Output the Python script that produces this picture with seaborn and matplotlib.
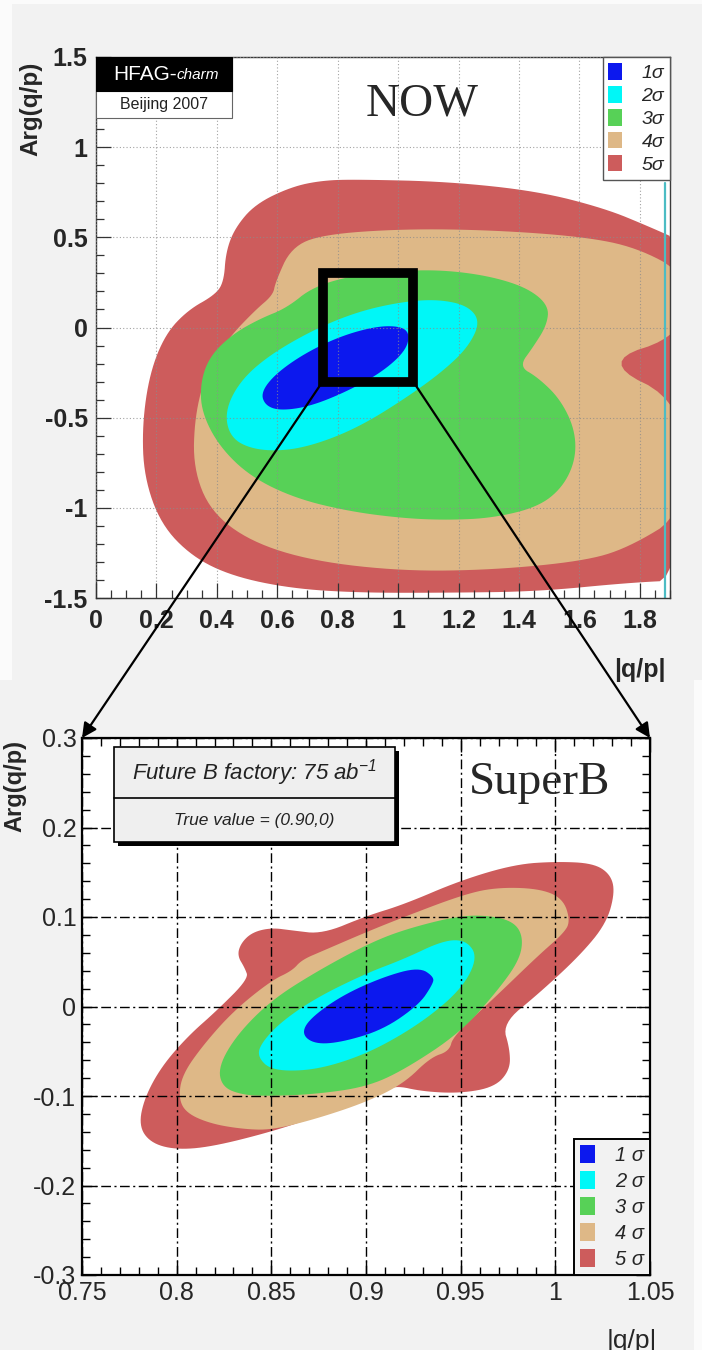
import numpy as np
import matplotlib
matplotlib.use("Agg")
import matplotlib.pyplot as plt
from matplotlib.patches import Rectangle, Patch, ConnectionPatch
from matplotlib.ticker import FixedLocator, FixedFormatter, MultipleLocator
import seaborn as sns

# ---------------------------------------------------------------------------
# Confidence levels shared by both panels
levels_now = ["1σ", "2σ", "3σ", "4σ", "5σ"]
levels_superb = ["1 σ", "2 σ", "3 σ", "4 σ", "5 σ"]
level_colors = ["#0c18ee", "#00f7f7", "#57d157", "#deb887", "#cd5c5c"]

# ---------------------------------------------------------------------------
# Present measurement: region boundaries in (|q/p|, Arg(q/p))
now_5s_x = [0.750, 0.868, 1.165, 1.462, 1.685, 1.830, 1.95, 1.95, 1.759, 1.462,
            1.165, 0.868, 0.646, 0.453, 0.319, 0.215, 0.159, 0.153, 0.178,
            0.230, 0.304, 0.393, 0.423, 0.430, 0.460, 0.527, 0.646]
now_5s_y = [0.816, 0.821, 0.809, 0.756, 0.660, 0.560, 0.47, -1.40, -1.416, -1.464,
            -1.471, -1.471, -1.447, -1.380, -1.272, -1.092, -0.828, -0.540,
            -0.252, -0.036, 0.096, 0.180, 0.252, 0.420, 0.552, 0.684, 0.780]

now_4s_x = [0.594, 0.646, 0.750, 1.017, 1.314, 1.611, 1.789, 1.95, 1.95, 1.67,
            1.95, 1.95, 1.759, 1.611, 1.314, 1.017, 0.720, 0.512, 0.379, 0.322,
            0.327, 0.364, 0.438, 0.527, 0.586]
now_4s_y = [0.252, 0.444, 0.516, 0.547, 0.540, 0.504, 0.444, 0.30, -0.04, -0.19,
            -0.42, -1.03, -1.224, -1.296, -1.344, -1.351, -1.296, -1.188, -1.020,
            -0.780, -0.492, -0.252, -0.060, 0.096, 0.180]

now_3s_x = [0.631, 0.720, 0.868, 1.017, 1.165, 1.314, 1.432, 1.499, 1.492, 1.447,
            1.400, 1.462, 1.536, 1.585, 1.588, 1.544, 1.462, 1.314, 1.165, 1.017,
            0.839, 0.661, 0.512, 0.408, 0.349, 0.346, 0.378, 0.453, 0.542]
now_3s_y = [0.108, 0.228, 0.295, 0.317, 0.317, 0.281, 0.216, 0.120, 0.012, -0.108,
            -0.216, -0.276, -0.396, -0.564, -0.732, -0.888, -0.996, -1.056, -1.068,
            -1.058, -1.020, -0.948, -0.828, -0.660, -0.468, -0.300, -0.156, -0.036,
            0.048]

now_2s_x = [1.272, 1.232, 1.136, 1.017, 0.868, 0.720, 0.571, 0.475, 0.426, 0.445,
            0.520, 0.631, 0.750, 0.883, 1.032, 1.150, 1.232]
now_2s_y = [0.031, 0.120, 0.156, 0.144, 0.089, -0.012, -0.156, -0.300, -0.468,
            -0.612, -0.677, -0.684, -0.636, -0.540, -0.384, -0.240, -0.108]

now_1s_x = [1.039, 1.009, 0.928, 0.809, 0.690, 0.594, 0.546, 0.560, 0.609, 0.705,
            0.824, 0.943, 1.024]
now_1s_y = [-0.036, 0.007, 0.007, -0.048, -0.144, -0.257, -0.360, -0.432, -0.461,
            -0.439, -0.360, -0.252, -0.132]

# ---------------------------------------------------------------------------
# Future B factory (75 ab^-1) projection around true value (0.90, 0)
sb_5s_x = [1.0315, 1.029, 1.020, 1.001, 0.979, 0.950, 0.920, 0.900, 0.877, 0.861,
           0.850, 0.840, 0.834, 0.832, 0.836, 0.838, 0.821, 0.806, 0.792, 0.783,
           0.780, 0.786, 0.799, 0.818, 0.850, 0.877, 0.908, 0.915, 0.930, 0.950,
           0.968, 0.976, 0.976, 0.972, 0.991, 1.013, 1.027]
sb_5s_y = [0.128, 0.148, 0.160, 0.162, 0.159, 0.141, 0.114, 0.101, 0.081, 0.085,
           0.088, 0.083, 0.071, 0.057, 0.043, 0.031, -0.005, -0.033, -0.067, -0.102,
           -0.133, -0.152, -0.160, -0.157, -0.140, -0.121, -0.098, -0.088, -0.095,
           -0.097, -0.090, -0.071, -0.048, -0.019, 0.014, 0.057, 0.093]

sb_4s_x = [1.008, 1.004, 0.991, 0.968, 0.950, 0.920, 0.900, 0.877, 0.866, 0.861,
           0.850, 0.830, 0.814, 0.803, 0.801, 0.805, 0.818, 0.835, 0.850, 0.873,
           0.900, 0.920, 0.934, 0.944, 0.946, 0.968, 0.991, 1.004]
sb_4s_y = [0.095, 0.121, 0.132, 0.133, 0.124, 0.100, 0.083, 0.062, 0.052, 0.040,
           0.029, -0.005, -0.043, -0.076, -0.102, -0.119, -0.131, -0.137, -0.138,
           -0.126, -0.107, -0.086, -0.057, -0.050, -0.033, 0.010, 0.057, 0.081]

sb_3s_x = [0.983, 0.979, 0.968, 0.950, 0.920, 0.900, 0.873, 0.850, 0.832, 0.822,
           0.824, 0.835, 0.850, 0.873, 0.900, 0.920, 0.950, 0.970, 0.981]
sb_3s_y = [0.076, 0.093, 0.101, 0.102, 0.086, 0.069, 0.038, 0.007, -0.031, -0.067,
           -0.090, -0.099, -0.100, -0.098, -0.090, -0.071, -0.029, 0.019, 0.052]

sb_2s_x = [0.959, 0.953, 0.941, 0.920, 0.900, 0.873, 0.854, 0.844, 0.843, 0.850,
           0.868, 0.887, 0.908, 0.932, 0.951]
sb_2s_y = [0.055, 0.074, 0.074, 0.053, 0.037, 0.009, -0.019, -0.043, -0.057, -0.071,
           -0.072, -0.063, -0.045, -0.014, 0.021]

sb_1s_x = [0.936, 0.928, 0.909, 0.887, 0.870, 0.866, 0.873, 0.887, 0.909, 0.928,
           0.935]
sb_1s_y = [0.033, 0.044, 0.033, 0.012, -0.014, -0.031, -0.042, -0.040, -0.026,
           0.002, 0.024]

# Tick labels
now_xticks = ["0", "0.2", "0.4", "0.6", "0.8", "1", "1.2", "1.4", "1.6", "1.8"]
now_yticks = ["-1.5", "-1", "-0.5", "0", "0.5", "1", "1.5"]
sb_xticks = ["0.75", "0.8", "0.85", "0.9", "0.95", "1", "1.05"]
sb_yticks = ["-0.3", "-0.2", "-0.1", "0", "0.1", "0.2", "0.3"]

# Zoom window shown in the lower panel
zoom_x = (0.75, 1.05)
zoom_y = (-0.3, 0.3)

# ---------------------------------------------------------------------------
sns.set_style("ticks")
plt.rcParams["font.family"] = ["Liberation Sans", "DejaVu Sans"]
plt.rcParams["mathtext.fontset"] = "custom"
plt.rcParams["mathtext.rm"] = "Liberation Sans:italic"
plt.rcParams["mathtext.it"] = "Liberation Sans:italic"

BG = "#f2f2f2"
W, H = 702, 1350
fig = plt.figure(figsize=(W / 100, H / 100), dpi=100, facecolor=BG)

# light margins around the two panels
for (l, t, r, b) in [(0, 0, 12, 680), (0, 0, W, 4), (694, 680, W, H)]:
    fig.patches.append(Rectangle((l / W, 1 - b / H), (r - l) / W, (b - t) / H,
                                 transform=fig.transFigure, facecolor="#fbfbfb",
                                 edgecolor="none", zorder=0))


def px_axes(l, t, r, b):
    return [l / W, 1 - b / H, (r - l) / W, (b - t) / H]


ax1 = fig.add_axes(px_axes(96, 57, 670, 598), facecolor="white")
ax2 = fig.add_axes(px_axes(82, 738, 650, 1275), facecolor="white")


def smooth(xs, ys, n=3):
    """Chaikin corner cutting for a closed outline."""
    pts = np.column_stack([xs, ys]).astype(float)
    for _ in range(n):
        nxt = np.roll(pts, -1, axis=0)
        q = 0.75 * pts + 0.25 * nxt
        r = 0.25 * pts + 0.75 * nxt
        out = np.empty((2 * len(pts), 2))
        out[0::2] = q
        out[1::2] = r
        pts = out
    return pts[:, 0], pts[:, 1]


def draw_regions(ax, regions):
    for (xs, ys), col in zip(regions, level_colors[::-1]):
        sx, sy = smooth(xs, ys)
        ax.fill(sx, sy, color=col, lw=0, zorder=1)


# ---------------- upper panel ----------------
draw_regions(ax1, [(now_5s_x, now_5s_y), (now_4s_x, now_4s_y), (now_3s_x, now_3s_y),
                   (now_2s_x, now_2s_y), (now_1s_x, now_1s_y)])
ax1.axvline(1.884, ymin=0, ymax=(0.80 + 1.5) / 3, color="#4cbcc4", lw=1.6, zorder=2)

ax1.set_xlim(0, 1.9)
ax1.set_ylim(-1.5, 1.5)
ax1.xaxis.set_major_locator(FixedLocator(np.arange(len(now_xticks)) * 0.2))
ax1.xaxis.set_major_formatter(FixedFormatter(now_xticks))
ax1.yaxis.set_major_locator(FixedLocator(np.arange(len(now_yticks)) * 0.5 - 1.5))
ax1.yaxis.set_major_formatter(FixedFormatter(now_yticks))
ax1.xaxis.set_minor_locator(MultipleLocator(0.05))
ax1.yaxis.set_minor_locator(MultipleLocator(0.1))
ax1.tick_params(which="both", direction="in", top=False, right=False, color="#333333",
                width=0.9)
ax1.tick_params(which="major", length=11, labelsize=18, pad=6)
ax1.tick_params(axis="x", which="major", pad=8)
ax1.tick_params(which="minor", length=6)
for lab in ax1.get_xticklabels() + ax1.get_yticklabels():
    lab.set_fontweight("bold")
ax1.set_axisbelow(False)
ax1.grid(True, which="major", color="#8c8c8c", lw=0.8, ls=(0, (1, 2)), alpha=0.8)
for sp in ax1.spines.values():
    sp.set_color("#3a3a3a")
    sp.set_linewidth(1.0)

ax1.set_ylabel("Arg(q/p)", fontsize=17.5, fontweight="bold")
ax1.yaxis.set_label_coords(-0.094, 0.905)
ax1.set_xlabel("|q/p|", fontsize=18, fontweight="bold")
ax1.xaxis.set_label_coords(0.948, -0.11)

# HFAG banner
ax1.add_patch(Rectangle((0, 0.887), 0.237, 0.113, transform=ax1.transAxes,
                        facecolor="white", edgecolor="#666666", lw=0.8, zorder=6))
ax1.add_patch(Rectangle((0, 0.937), 0.237, 0.063, transform=ax1.transAxes,
                        facecolor="black", edgecolor="black", lw=0.8, zorder=7))
ax1.text(0.141, 0.968, "HFAG-", transform=ax1.transAxes, color="white", fontsize=15,
         ha="right", va="center", zorder=8)
ax1.text(0.141, 0.966, "charm", transform=ax1.transAxes, color="white", fontsize=11,
         style="italic", ha="left", va="center", zorder=8)
ax1.text(0.118, 0.912, "Beijing 2007", transform=ax1.transAxes, color="#222222",
         fontsize=11.5, ha="center", va="center", zorder=8)

handles = [Patch(facecolor=c, edgecolor="none") for c in level_colors]
leg1 = ax1.legend(handles, levels_now, loc="upper right", bbox_to_anchor=(1.0, 1.0),
                  borderaxespad=0, frameon=True, fancybox=False, framealpha=1,
                  facecolor="white", edgecolor="#555555",
                  prop={"style": "italic", "size": 14}, handlelength=0.7,
                  handleheight=0.95, handletextpad=1.0, borderpad=0.3,
                  labelspacing=0.2)
leg1.get_frame().set_linewidth(1.0)
leg1.set_zorder(9)

# Zoom window marker
ax1.add_patch(Rectangle((zoom_x[0], zoom_y[0]), zoom_x[1] - zoom_x[0],
                        zoom_y[1] - zoom_y[0], fill=False, edgecolor="black",
                        lw=7, joinstyle="miter", zorder=10))

# ---------------- lower panel ----------------
draw_regions(ax2, [(sb_5s_x, sb_5s_y), (sb_4s_x, sb_4s_y), (sb_3s_x, sb_3s_y),
                   (sb_2s_x, sb_2s_y), (sb_1s_x, sb_1s_y)])
ax2.set_xlim(*zoom_x)
ax2.set_ylim(*zoom_y)
ax2.xaxis.set_major_locator(FixedLocator(0.75 + np.arange(len(sb_xticks)) * 0.05))
ax2.xaxis.set_major_formatter(FixedFormatter(sb_xticks))
ax2.yaxis.set_major_locator(FixedLocator(-0.3 + np.arange(len(sb_yticks)) * 0.1))
ax2.yaxis.set_major_formatter(FixedFormatter(sb_yticks))
ax2.xaxis.set_minor_locator(MultipleLocator(0.01))
ax2.yaxis.set_minor_locator(MultipleLocator(0.02))
ax2.tick_params(which="both", direction="in", top=True, right=True, color="black",
                width=1.0)
ax2.tick_params(which="major", length=10, labelsize=18, pad=4)
ax2.tick_params(which="minor", length=6)
ax2.set_axisbelow(False)
ax2.grid(True, which="major", color="black", lw=1.0, ls=(0, (7, 2.5, 1.5, 2.5)))
for sp in ax2.spines.values():
    sp.set_color("black")
    sp.set_linewidth(1.6)

ax2.set_ylabel("Arg(q/p)", fontsize=17, fontweight="bold")
ax2.yaxis.set_label_coords(-0.097, 0.91)
ax2.set_xlabel("|q/p|", fontsize=19)
ax2.xaxis.set_label_coords(0.968, -0.1)

# Caption box
bx0, by0, bw, bh = 0.0563, 0.8063, 0.4948, 0.1769
ax2.add_patch(Rectangle((bx0 + 0.007, by0 - 0.0075), bw, bh, transform=ax2.transAxes,
                        facecolor="black", edgecolor="black", lw=0, zorder=11))
ax2.add_patch(Rectangle((bx0, by0), bw, bh, transform=ax2.transAxes,
                        facecolor="#efefef", edgecolor="black", lw=1.2, zorder=12))
ax2.plot([bx0, bx0 + bw], [0.8883, 0.8883], transform=ax2.transAxes, color="black",
         lw=1.2, zorder=13)
ax2.text(0.3037, 0.935, "Future B factory: 75 ab$^{-1}$", transform=ax2.transAxes,
         fontsize=16, style="italic", ha="center", va="center", zorder=14,
         color="#222222")
ax2.text(0.3037, 0.846, "True value = (0.90,0)", transform=ax2.transAxes,
         fontsize=12.5, style="italic", ha="center", va="center", zorder=14,
         color="#222222")

leg2 = ax2.legend(handles, levels_superb, loc="lower right", bbox_to_anchor=(1.0, 0.0),
                  borderaxespad=0, frameon=True, fancybox=False, framealpha=1,
                  facecolor="#f2f2f2", edgecolor="black",
                  prop={"style": "italic", "size": 14.5}, handlelength=0.75,
                  handleheight=1.0, handletextpad=1.0, borderpad=0.3,
                  labelspacing=0.3)
leg2.get_frame().set_linewidth(1.4)
leg2.set_zorder(15)

# Panel titles
fig.text(422 / W, 1 - 104 / H, "NOW", fontsize=34, family="Liberation Serif",
         ha="center", va="center")
fig.text(540 / W, 1 - 783 / H, "SuperB", fontsize=34, family="Liberation Serif",
         ha="center", va="center")

# Arrows linking the zoom window to the lower panel
for xc in zoom_x:
    con = ConnectionPatch(xyA=(xc, zoom_y[0]), coordsA=ax1.transData,
                          xyB=(xc, zoom_y[1]), coordsB=ax2.transData,
                          arrowstyle="-|>", mutation_scale=22, lw=1.6,
                          color="black", shrinkA=4, shrinkB=0, zorder=20)
    fig.add_artist(con)

fig.savefig("out.png", dpi=100, facecolor=BG)
